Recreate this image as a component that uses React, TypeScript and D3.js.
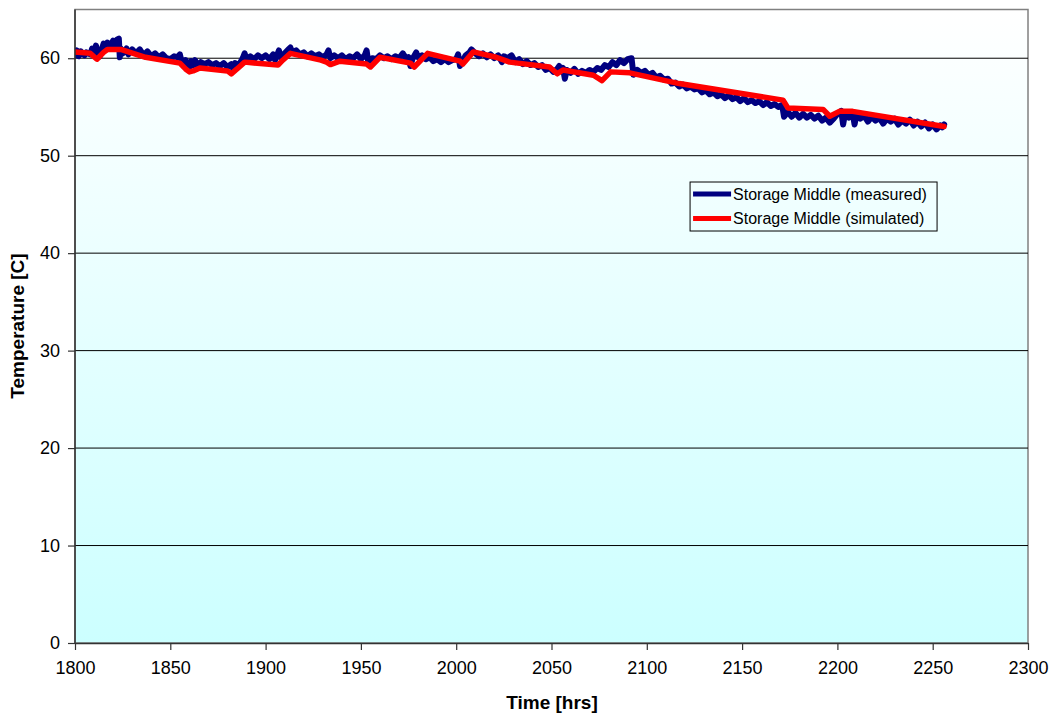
import { useEffect, useRef } from 'react';
import * as d3 from 'd3';

// measured storage temperature (hrs, C)
const measuredT = [
  1800, 1801, 1802, 1803, 1805, 1806, 1808, 1809, 1810, 1811, 1812, 1813, 1814, 1815, 1816, 1817, 1818, 1819, 1820, 1821,
  1822, 1823, 1823.5, 1824, 1825, 1827, 1828, 1830, 1832, 1834, 1836, 1838, 1840, 1842, 1844, 1846, 1848, 1850, 1852, 1854,
  1855, 1856, 1857, 1858, 1859, 1860, 1861, 1862, 1863, 1864, 1866, 1868, 1870, 1872, 1874, 1876, 1878, 1880, 1882, 1883,
  1884, 1886, 1888, 1889, 1890, 1892, 1894, 1896, 1898, 1900, 1902, 1904, 1905, 1906, 1907, 1908, 1910, 1912, 1913, 1914,
  1916, 1918, 1920, 1922, 1924, 1926, 1928, 1930, 1932, 1933, 1934, 1936, 1938, 1940, 1942, 1944, 1946, 1948, 1950, 1952,
  1953, 1954, 1956, 1958, 1960, 1962, 1964, 1966, 1968, 1970, 1972, 1974, 1975, 1976, 1977, 1979, 1980, 1982, 1984, 1986,
  1988, 1990, 1992, 1994, 1996, 1998, 2000, 2001, 2002, 2003, 2005, 2007, 2008, 2010, 2012, 2014, 2016, 2018, 2020, 2022,
  2024, 2025, 2027, 2029, 2031, 2033, 2035, 2037, 2039, 2041, 2043, 2045, 2047, 2049, 2051, 2053, 2054, 2055, 2056, 2057,
  2058, 2060, 2062, 2064, 2066, 2068, 2070, 2072, 2074, 2076, 2078, 2080, 2082, 2084, 2086, 2088, 2090, 2092, 2093, 2095,
  2097, 2099, 2101, 2103, 2105, 2107, 2109, 2111, 2113, 2115, 2117, 2119, 2121, 2123, 2125, 2127, 2129, 2131, 2133, 2135,
  2137, 2139, 2141, 2143, 2145, 2147, 2149, 2151, 2153, 2155, 2157, 2159, 2161, 2163, 2165, 2167, 2169, 2171, 2172, 2174,
  2176, 2178, 2180, 2182, 2184, 2186, 2188, 2190, 2192, 2194, 2196, 2198, 2200, 2202, 2203, 2204, 2206, 2208, 2209, 2210,
  2212, 2214, 2216, 2218, 2220, 2222, 2224, 2226, 2228, 2230, 2232, 2234, 2236, 2238, 2240, 2242, 2244, 2246, 2248, 2250,
  2252, 2254, 2255, 2256,
];
const measuredV = [
  60.3, 60.8, 60.2, 60.7, 60.3, 60.6, 60.4, 61.0, 60.5, 61.3, 60.4, 60.2, 60.9, 61.5, 61.0, 61.6, 61.2, 61.4, 61.8, 61.2,
  61.9, 62.0, 60.1, 61.0, 60.5, 61.0, 60.4, 60.9, 60.5, 60.9, 60.3, 60.7, 60.2, 60.5, 60.1, 60.4, 60.0, 59.9, 60.2, 60.1,
  60.4, 59.6, 59.2, 59.8, 59.4, 59.0, 59.7, 59.3, 59.8, 59.2, 59.6, 59.4, 59.6, 59.3, 59.5, 59.2, 59.5, 59.1, 59.4, 58.9,
  59.5, 59.3, 60.0, 60.5, 59.9, 60.2, 59.9, 60.3, 60.0, 60.3, 59.9, 60.4, 59.8, 60.3, 60.8, 60.1, 60.5, 60.9, 61.1, 60.6,
  60.8, 60.4, 60.6, 60.2, 60.5, 60.2, 60.4, 60.1, 60.4, 60.8, 60.0, 60.3, 60.0, 60.3, 59.9, 60.2, 60.0, 60.4, 59.9, 60.3,
  60.8, 59.4, 60.0, 59.9, 60.3, 60.0, 60.2, 59.9, 60.2, 60.0, 60.5, 59.9, 60.1, 59.2, 59.9, 60.6, 60.1, 60.3, 59.9, 60.1,
  59.7, 59.9, 59.6, 59.9, 59.6, 59.8, 59.9, 60.4, 59.2, 59.6, 60.3, 60.6, 60.9, 60.5, 60.2, 60.5, 60.1, 60.4, 60.0, 60.3,
  59.6, 60.2, 60.0, 60.3, 59.6, 59.9, 59.4, 59.7, 59.3, 59.5, 59.1, 59.3, 58.8, 59.0, 58.6, 58.9, 59.2, 58.7, 59.0, 57.9,
  58.8, 58.5, 58.9, 58.4, 58.7, 58.5, 58.8, 58.6, 59.0, 58.8, 59.3, 59.1, 59.6, 59.3, 59.8, 59.5, 59.9, 60.0, 58.3, 58.8,
  58.5, 58.7, 58.3, 58.5, 58.0, 58.2, 57.8, 57.9, 57.4, 57.5, 57.1, 57.3, 56.9, 57.1, 56.8, 56.9, 56.5, 56.7, 56.3, 56.5,
  56.1, 56.3, 55.9, 56.2, 55.8, 56.0, 55.6, 55.9, 55.5, 55.7, 55.4, 55.6, 55.2, 55.5, 55.1, 55.3, 55.0, 55.2, 54.0, 54.5,
  54.0, 54.4, 53.9, 54.3, 53.9, 54.2, 53.8, 54.1, 53.6, 53.9, 53.4, 53.8, 54.3, 54.6, 53.2, 54.3, 53.9, 54.4, 53.2, 54.2,
  53.8, 54.1, 53.5, 54.0, 53.6, 53.9, 53.3, 53.8, 53.5, 53.8, 53.2, 53.6, 53.3, 53.7, 53.1, 53.5, 53.0, 53.4, 52.8, 53.2,
  52.7, 53.1, 52.9, 53.2,
];

// simulated storage temperature
const simulatedT = [
  1800, 1808, 1811.5, 1815, 1817, 1824, 1837, 1855, 1858, 1860, 1862, 1865.5, 1880, 1882, 1885, 1889, 1906.5, 1909, 1913, 1929,
  1932, 1934, 1939, 1953, 1955, 1960, 1976, 1978, 1985, 2002, 2003.5, 2009, 2021, 2028, 2049, 2053, 2056, 2072, 2076.5, 2081,
  2091, 2117, 2171.5, 2174, 2192.5, 2196, 2201, 2208, 2256,
];
const simulatedV = [
  60.65, 60.5, 59.9, 60.6, 60.9, 60.9, 60.1, 59.5, 58.9, 58.6, 58.7, 59.0, 58.7, 58.4, 58.9, 59.6, 59.3, 59.8, 60.5, 59.8,
  59.6, 59.35, 59.7, 59.4, 59.1, 60.1, 59.5, 59.1, 60.5, 59.7, 59.4, 60.65, 60.1, 59.6, 59.1, 58.4, 58.8, 58.25, 57.7, 58.6,
  58.5, 57.4, 55.7, 54.9, 54.75, 54.05, 54.55, 54.55, 53.0,
];

const xTicks = [1800, 1850, 1900, 1950, 2000, 2050, 2100, 2150, 2200, 2250, 2300];
const yTicks = [0, 10, 20, 30, 40, 50, 60];
const seriesNames = ['Storage Middle (measured)', 'Storage Middle (simulated)'];
const seriesColors = ['#000080', '#FF0000'];

const W = 1055;
const H = 717;
const FONT = '"Liberation Sans", Arial, sans-serif';

export default function App() {
  const axisRef = useRef<SVGGElement>(null);

  const margin = { top: 9.5, right: 27, bottom: 74, left: 75 };
  const iw = W - margin.left - margin.right;
  const ih = H - margin.top - margin.bottom;

  const x = d3.scaleLinear().domain([1800, 2300]).range([0, iw]);
  const y = d3.scaleLinear().domain([0, 65]).range([ih, 0]);

  const line = d3
    .line<[number, number]>()
    .x((d) => x(d[0]))
    .y((d) => y(d[1]));

  const measured = measuredT.map((t, i) => [t, measuredV[i]] as [number, number]);
  const simulated = simulatedT.map((t, i) => [t, simulatedV[i]] as [number, number]);

  useEffect(() => {
    const g = d3.select(axisRef.current);
    g.selectAll('*').remove();

    const fmt = d3.format('d');
    const xa = g
      .append('g')
      .attr('transform', `translate(0,${ih})`)
      .call(d3.axisBottom(x).tickValues(xTicks).tickFormat(fmt).tickSize(7).tickPadding(11).tickSizeOuter(0));
    const ya = g
      .append('g')
      .call(d3.axisLeft(y).tickValues(yTicks).tickFormat(fmt).tickSize(7).tickPadding(8).tickSizeOuter(0));

    [xa, ya].forEach((a) => {
      a.select('.domain').attr('stroke', '#333').attr('stroke-width', 1.5);
      a.selectAll('.tick line').attr('stroke', '#333').attr('stroke-width', 1.2);
      a.selectAll('.tick text')
        .attr('font-family', FONT)
        .attr('font-size', 18)
        .attr('fill', '#000');
    });
    ya.select('.domain').attr('d', `M0,${ih}V0`);
  }, []);

  return (
    <svg width={W} height={H} style={{ position: 'absolute', left: 0, top: 0, background: '#fff' }}>
      <defs>
        <linearGradient id="bg" x1="0" y1="0" x2="0" y2="1">
          <stop offset="0%" stopColor="#FFFFFF" />
          <stop offset="100%" stopColor="#CCFFFF" />
        </linearGradient>
        <clipPath id="plot">
          <rect x={0} y={0} width={iw} height={ih} />
        </clipPath>
      </defs>
      <g transform={`translate(${margin.left},${margin.top})`}>
        <rect x={0} y={0} width={iw} height={ih} fill="url(#bg)" stroke="#808080" strokeWidth={1.5} />
        {yTicks.slice(1).map((v) => (
          <line key={v} x1={0} x2={iw} y1={y(v)} y2={y(v)} stroke="#000" strokeWidth={1} />
        ))}
        <g clipPath="url(#plot)">
          <path d={line(measured) || ''} fill="none" stroke={seriesColors[0]} strokeWidth={6} strokeLinejoin="round" strokeLinecap="round" />
          <path d={line(simulated) || ''} fill="none" stroke={seriesColors[1]} strokeWidth={5.5} strokeLinejoin="round" strokeLinecap="round" />
        </g>
        <g ref={axisRef} />

        <g transform={`translate(${x(2122.7)},${y(47.3)})`}>
          <rect x={0} y={0} width={247} height={49} fill="none" stroke="#000" strokeWidth={1} />
          {seriesNames.map((name, i) => (
            <g key={name} transform={`translate(0,${12 + i * 24.5})`}>
              <line x1={3} x2={41} y1={0} y2={0} stroke={seriesColors[i]} strokeWidth={5} />
              <text x={43} y={5.5} fontFamily={FONT} fontSize={16} fill="#000">
                {name}
              </text>
            </g>
          ))}
        </g>
      </g>

      <text x={552} y={709} textAnchor="middle" fontFamily={FONT} fontSize={19} fontWeight="bold">
        Time [hrs]
      </text>
      <text
        transform={`translate(24,326) rotate(-90)`}
        textAnchor="middle"
        fontFamily={FONT}
        fontSize={19}
        fontWeight="bold"
      >
        Temperature [C]
      </text>
    </svg>
  );
}
